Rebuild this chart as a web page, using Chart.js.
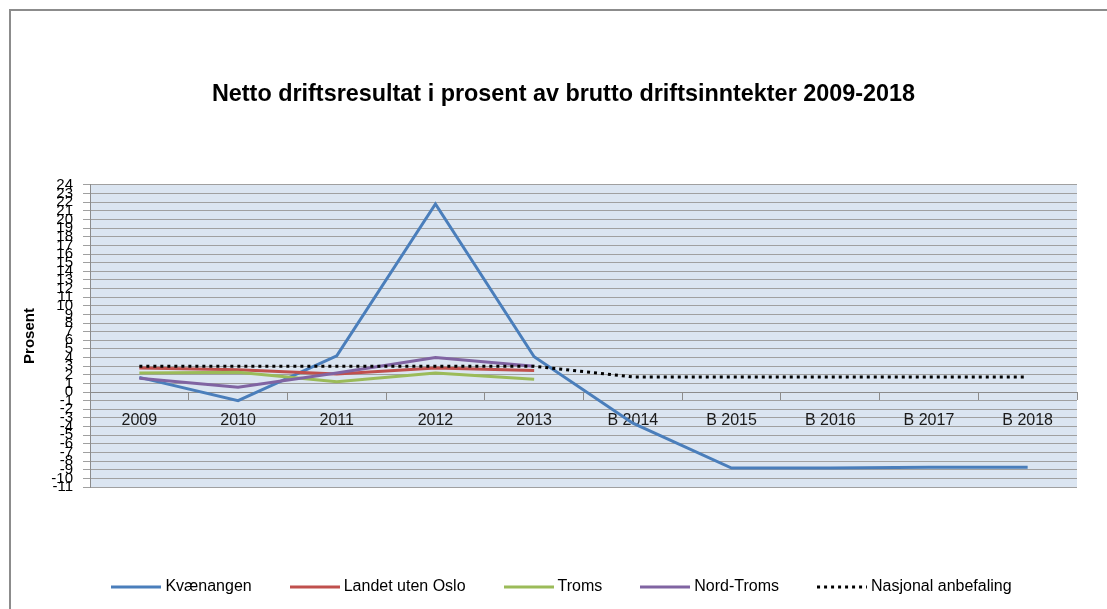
<!DOCTYPE html>
<html>
<head>
<meta charset="utf-8">
<script src="https://cdn.jsdelivr.net/npm/chart.js@4"></script>
<style>
  html, body { margin: 0; padding: 0; background: #fff; overflow: hidden; }
  #frame { position: absolute; left: 9px; top: 9px; width: 1200px; height: 700px; border: 2px solid #8c8c8c; }
  #wrap { position: absolute; left: 0; top: 0; width: 1107px; height: 609px; }
</style>
</head>
<body>
<div id="frame"></div>
<div id="wrap"><canvas id="chart"></canvas></div>
<script>
const categories = ["2009", "2010", "2011", "2012", "2013", "B 2014", "B 2015", "B 2016", "B 2017", "B 2018"];

const kvaenangen = [1.7, -1.0, 4.2, 21.8, 4.1, -3.6, -8.8, -8.8, -8.7, -8.7];
const landetUtenOslo = [2.8, 2.6, 2.1, 2.8, 2.5, null, null, null, null, null];
const troms = [2.2, 2.3, 1.2, 2.2, 1.5, null, null, null, null, null];
const nordTroms = [1.6, 0.55, 2.2, 4.0, 3.0, null, null, null, null, null];
const nasjonal = [3, 3, 3, 3, 3, 1.75, 1.75, 1.75, 1.75, 1.75];

const yMin = -11;
const yMax = 24;

Chart.defaults.font.family = "'Liberation Sans', Arial, sans-serif";

// light blue plot background like the Excel original
const plotBg = {
  id: "plotBg",
  beforeDraw(chart) {
    const { ctx, chartArea: a } = chart;
    ctx.save();
    ctx.fillStyle = "#dbe5f1";
    ctx.fillRect(a.left, a.top, a.right - a.left, a.bottom - a.top);
    ctx.restore();
  },
};

// small canvas used as legend symbol, so the dotted line also shows dotted
function legendSymbol(color, dash) {
  const c = document.createElement("canvas");
  c.width = 50;
  c.height = 4;
  const g = c.getContext("2d");
  g.strokeStyle = color;
  g.lineWidth = 3;
  g.setLineDash(dash || []);
  g.beginPath();
  g.moveTo(0, 2);
  g.lineTo(50, 2);
  g.stroke();
  return c;
}

const line = (label, data, color, order, dash) => ({
  label: label,
  data: data,
  xAxisID: "x",
  yAxisID: "y",
  borderColor: color,
  backgroundColor: color,
  borderWidth: 3,
  borderDash: dash || [],
  pointRadius: 0,
  pointHoverRadius: 0,
  pointStyle: legendSymbol(color, dash),
  fill: false,
  tension: 0,
  order: order,
});

new Chart(document.getElementById("chart"), {
  type: "line",
  data: {
    labels: categories,
    datasets: [
      line("Kvænangen", kvaenangen, "#4a7ebb", 4),
      line("Landet uten Oslo", landetUtenOslo, "#c0504d", 3),
      line("Troms", troms, "#9bbb59", 2),
      line("Nord-Troms", nordTroms, "#8064a2", 1),
      line("Nasjonal anbefaling", nasjonal, "#000000", 0, [3, 4]),
    ],
  },
  options: {
    responsive: true,
    maintainAspectRatio: false,
    animation: false,
    layout: { padding: { left: 50, right: 30, top: 0, bottom: 4 } },
    plugins: {
      title: {
        display: true,
        text: "Netto driftsresultat i prosent av brutto driftsinntekter 2009-2018",
        color: "#000",
        font: { size: 23.4, weight: "bold" },
        padding: { top: 80.5, bottom: 76.4 },
      },
      legend: {
        position: "bottom",
        labels: {
          usePointStyle: true,
          pointStyleWidth: 42,
          padding: 42,
          color: "#000",
          font: { size: 16 },
          sort: (a, b) => a.datasetIndex - b.datasetIndex,
        },
      },
      tooltip: { enabled: false },
    },
    scales: {
      x: {
        type: "category",
        position: { y: 0 },
        offset: true,
        grid: { offset: true, drawOnChartArea: false, drawTicks: true, tickLength: 7, color: "#8c8c8c" },
        border: { color: "#8c8c8c" },
        ticks: { padding: 12, color: "#1a1a1a", font: { size: 16 }, maxRotation: 0, autoSkip: false },
      },
      // empty bottom box: keeps the gap between plot and legend
      gap: {
        type: "category",
        axis: "x",
        position: "bottom",
        grid: { display: false },
        border: { display: false },
        ticks: { display: false },
        afterFit: (scale) => { scale.height = 50; },
      },
      y: {
        min: yMin,
        max: yMax,
        afterFit: (scale) => { scale.width = 40; },
        grid: { color: "#a0a0a0", tickLength: 7 },
        border: { color: "#8c8c8c" },
        ticks: { stepSize: 1, autoSkip: false, padding: 10, color: "#000", font: { size: 15, lineHeight: 1 } },
        title: {
          display: true,
          text: "Prosent",
          color: "#000",
          font: { size: 15, weight: "bold" },
          padding: { top: -29, bottom: 0 },
        },
      },
    },
  },
  plugins: [plotBg],
});
</script>
</body>
</html>
